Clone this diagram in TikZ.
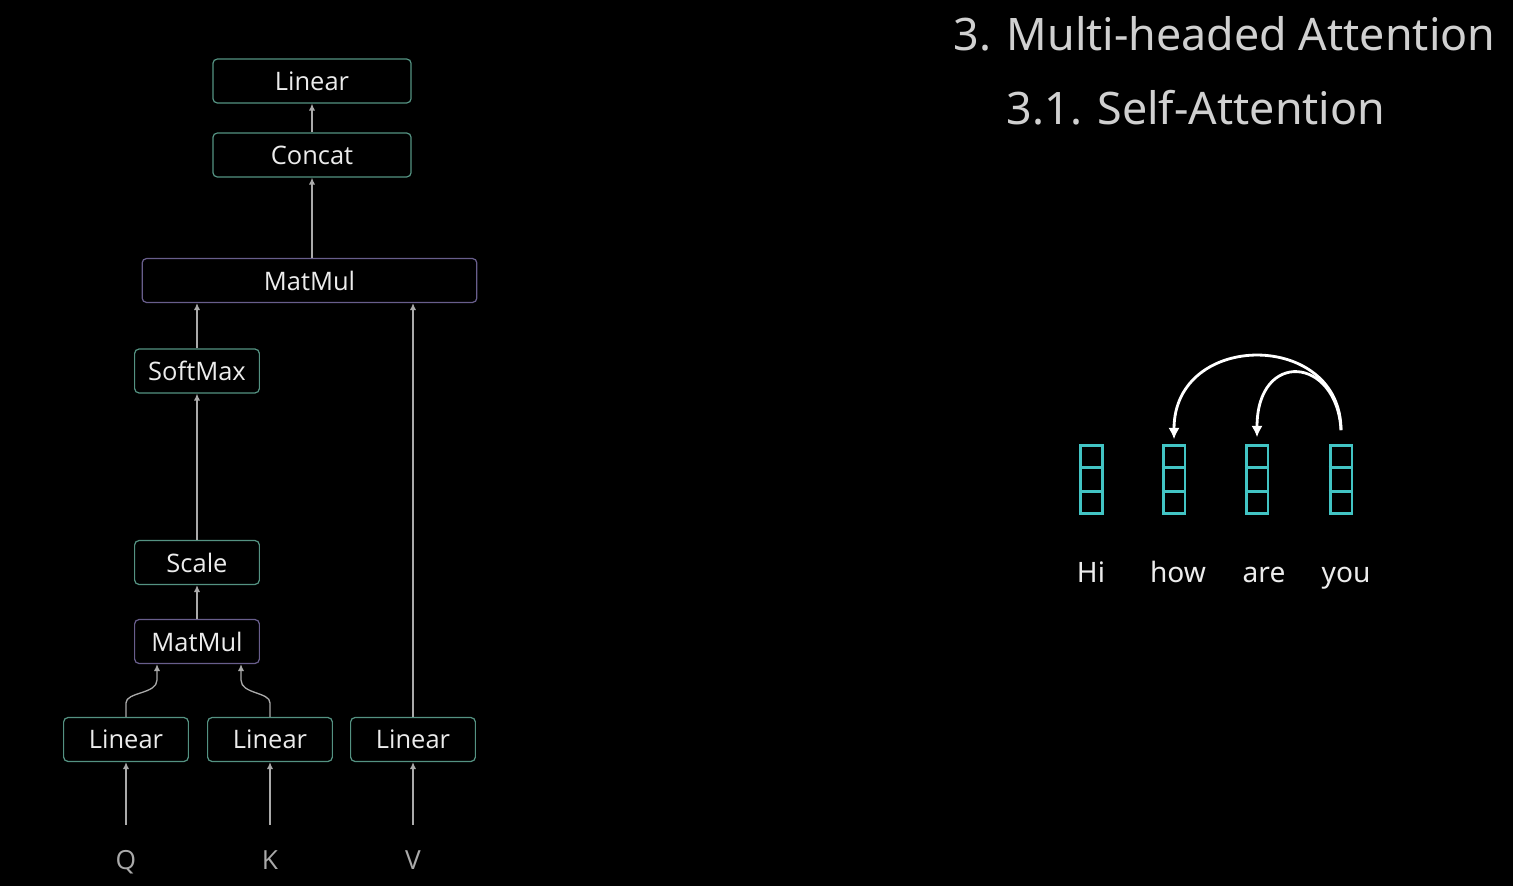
\documentclass[tikz,border=0pt]{standalone}
\usepackage{fontspec}
\setmainfont{Open Sans}
\newfontfamily\titlefont{Noto Sans}
\usepackage{xcolor}
\usetikzlibrary{calc,positioning,arrows.meta}
\definecolor{boxteal}{RGB}{84,146,130}
\definecolor{boxpurple}{RGB}{104,94,140}
\definecolor{vecteal}{RGB}{66,196,196}
\definecolor{flowgray}{RGB}{170,170,170}
\definecolor{labelgray}{RGB}{236,236,236}
\definecolor{titlegray}{RGB}{208,208,208}

\begin{document}
\begin{tikzpicture}[
    x=0.02cm, y=-0.02cm,
    box/.style={draw=boxteal, line width=0.7pt, rounded corners=2.5pt, fill=black,
        text=labelgray, minimum height=25pt, inner sep=0pt,
        font=\fontsize{14.5}{17}\selectfont},
    mmbox/.style={box, draw=boxpurple},
    flow/.style={draw=flowgray, line width=0.75pt, -{Latex[length=4pt,width=3.6pt]}},
    qkv/.style={text=flowgray, inner sep=0pt, font=\fontsize{15}{18}\selectfont},
    heading/.style={text=titlegray, font=\titlefont\fontsize{25.5}{30}\selectfont},
    word/.style={text=labelgray, font=\titlefont\fontsize{16}{19}\selectfont},
    vecbox/.style={draw=vecteal, line width=1.7pt, minimum width=12.5pt,
        minimum height=38.5pt, inner sep=0pt},
    vecline/.style={draw=vecteal, line width=1.7pt},
    attn/.style={draw=white, line width=1.6pt, -{Latex[length=6.5pt,width=6.5pt]}},
]

    % background and page size
    \fill [black] (0,0) rectangle (1513,886);

    % attention block
    \node [box, minimum width=112.8pt] (lin out) at (312,81) {Linear};
    \node [box, minimum width=112.8pt] (concat) at (312,155) {Concat};
    \node [mmbox, minimum width=190.5pt] (mm big) at (309.5,280.5) {MatMul};
    \node [box, minimum width=71pt] (softmax) at (197,371) {SoftMax};
    \node [box, minimum width=71pt] (scale) at (197,562.5) {Scale};
    \node [mmbox, minimum width=71pt] (mm small) at (197,641.5) {MatMul};
    \node [box, minimum width=71pt] (lin q) at (126,739.5) {Linear};
    \node [box, minimum width=71pt] (lin k) at (270,739.5) {Linear};
    \node [box, minimum width=71pt] (lin v) at (413,739.5) {Linear};

    \node [qkv, anchor=base] (q) at (126,869) {Q};
    \node [qkv, anchor=base] (k) at (270,869) {K};
    \node [qkv, anchor=base] (v) at (413,869) {V};

    \draw [flow] (concat) -- (lin out);
    \draw [flow] (concat.south |- mm big.north) -- (concat.south);
    \draw [flow] (softmax.north) -- (softmax.north |- mm big.south);
    \draw [flow] (scale) -- (softmax);
    \draw [flow] (mm small) -- (scale);
    \draw [flow] (lin v.north) -- (lin v.north |- mm big.south);

    \draw [flow] (lin q.north) -- ++(0,-14)
        .. controls ++(0,-11) and ($(mm small.south)+(-40,30)$) .. ($(mm small.south)+(-40,16)$)
        -- ($(mm small.south)+(-40,0)$);
    \draw [flow] (lin k.north) -- ++(0,-14)
        .. controls ++(0,-11) and ($(mm small.south)+(44,30)$) .. ($(mm small.south)+(44,16)$)
        -- ($(mm small.south)+(44,0)$);

    \draw [flow] ($(q.north)+(0,-25)$) -- (lin q);
    \draw [flow] ($(k.north)+(0,-25)$) -- (lin k);
    \draw [flow] ($(v.north)+(0,-25)$) -- (lin v);

    % headings
    \node [heading, anchor=base] (title) at (1224.5,50) {3. Multi-headed Attention};
    \node [heading, anchor=base] (subtitle) at (1196,124) {3.1. Self-Attention};

    % word vectors
    \foreach \name/\x/\w/\wx in {hi/1091.5/Hi/1091, how/1174/how/1178, are/1257/are/1264, you/1341/you/1346} {
        \node [vecbox] (col \name) at (\x,479.5) {};
        \draw [vecline] ($(col \name.north west)!1/3!(col \name.south west)$)
            -- ($(col \name.north east)!1/3!(col \name.south east)$);
        \draw [vecline] ($(col \name.north west)!2/3!(col \name.south west)$)
            -- ($(col \name.north east)!2/3!(col \name.south east)$);
        \node [word, anchor=base] (word \name) at (\wx,582) {\w};
    }

    \draw [attn] ($(col you.north)+(0,-14)$)
        .. controls ($(col you.north)+(0,-114)$) and ($(col how.north)+(0,-114)$)
        .. ($(col how.north)+(0,-5)$);
    \draw [attn] ($(col you.north)+(0,-14)$)
        .. controls ($(col you.north)+(-4,-88)$) and ($(col are.north)+(0,-95)$)
        .. ($(col are.north)+(0,-7)$);
\end{tikzpicture}
\end{document}
